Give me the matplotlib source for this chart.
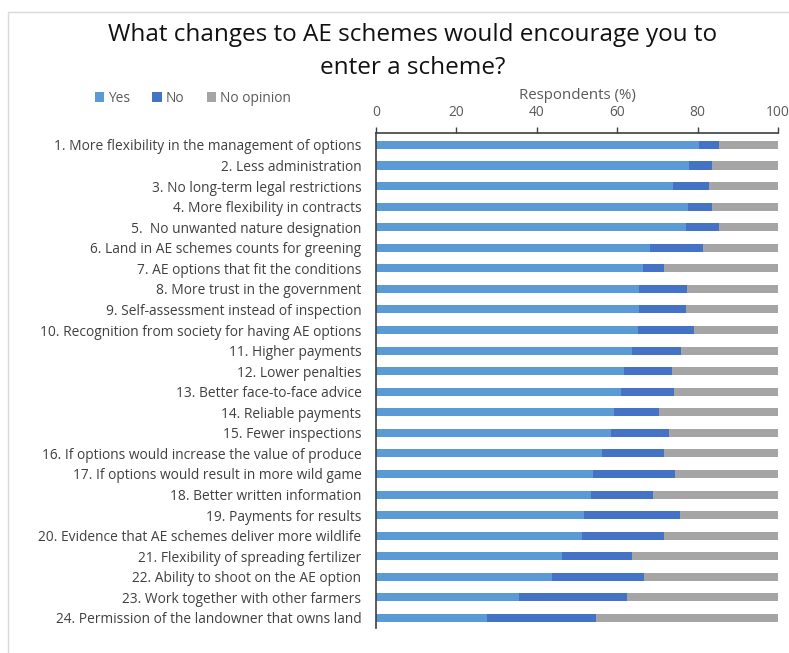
import matplotlib
matplotlib.use("Agg")
import matplotlib.pyplot as plt
from matplotlib.patches import Rectangle, Patch

plt.rcParams['font.family'] = ['Open Sans', 'DejaVu Sans']

categories = [
    "1. More flexibility in the management of options",
    "2. Less administration",
    "3. No long-term legal restrictions",
    "4. More flexibility in contracts",
    "5.  No unwanted nature designation",
    "6. Land in AE schemes counts for greening",
    "7. AE options that fit the conditions",
    "8. More trust in the government",
    "9. Self-assessment instead of inspection",
    "10. Recognition from society for having AE options",
    "11. Higher payments",
    "12. Lower penalties",
    "13. Better face-to-face advice",
    "14. Reliable payments",
    "15. Fewer inspections",
    "16. If options would increase the value of produce",
    "17. If options would result in more wild game",
    "18. Better written information",
    "19. Payments for results",
    "20. Evidence that AE schemes deliver more wildlife",
    "21. Flexibility of spreading fertilizer",
    "22. Ability to shoot on the AE option",
    "23. Work together with other farmers",
    "24. Permission of the landowner that owns land",
]
yes = [80.3, 77.9, 73.8, 77.7, 77.2, 68.2, 66.4, 65.5, 65.3, 65.1, 63.7, 61.8,
       60.9, 59.2, 58.4, 56.1, 53.9, 53.4, 51.7, 51.3, 46.2, 43.8, 35.6, 27.5]
no = [5.0, 5.8, 9.0, 6.0, 8.1, 13.1, 5.2, 11.9, 11.8, 13.9, 12.2, 11.8,
      13.2, 11.1, 14.4, 15.5, 20.4, 15.5, 23.8, 20.4, 17.5, 22.9, 26.8, 27.2]
no_opinion = [100 - a - b for a, b in zip(yes, no)]

series_names = ["Yes", "No", "No opinion"]
colors = ["#5B9BD5", "#4472C4", "#A5A5A5"]
xticks = [0, 20, 40, 60, 80, 100]

W, H = 789, 653
fig = plt.figure(figsize=(W / 100, H / 100), dpi=100)

# chart border
fig.patches.append(Rectangle((8 / W, -0.05), 1.05, 1 - 12 / H + 0.05,
                             transform=fig.transFigure, fill=False,
                             edgecolor="#D9D9D9", linewidth=1.0))

ax = fig.add_axes([376 / W, 1 - 628 / H, 402 / W, 495 / H])
ypos = list(range(len(categories)))
left = [0] * len(categories)
for vals, name, c in zip([yes, no, no_opinion], series_names, colors):
    ax.barh(ypos, vals, left=left, height=0.39, color=c, label=name)
    left = [l + v for l, v in zip(left, vals)]

ax.set_ylim(23.49, -0.58)
ax.set_xlim(0, 100)
ax.set_yticks(ypos)
ax.set_yticklabels(categories, fontsize=9.9, color="#404040")
ax.tick_params(axis="y", length=0, pad=10.5)
ax.xaxis.tick_top()
ax.xaxis.set_label_position("top")
ax.set_xticks(xticks)
ax.set_xticklabels([str(t) for t in xticks], fontsize=9.9, color="#595959")
ax.tick_params(axis="x", length=4, width=1, color="#404040", pad=5, direction="out")
ax.set_xlabel("Respondents (%)", fontsize=10.8, color="#595959", labelpad=5)
for s in ["right", "bottom"]:
    ax.spines[s].set_visible(False)
for s in ["top", "left"]:
    ax.spines[s].set_color("#404040")
    ax.spines[s].set_linewidth(1.2)

fig.text(413 / W, 1 - 35 / H, "What changes to AE schemes would encourage you to",
         ha="center", va="center", fontsize=17.5, color="#111111")
fig.text(413 / W, 1 - 68 / H, "enter a scheme?",
         ha="center", va="center", fontsize=17.5, color="#111111")

handles = [Patch(facecolor=c, edgecolor="none") for c in colors]
leg = fig.legend(handles, series_names, loc="center left",
                 bbox_to_anchor=(89 / W, 1 - 98 / H), ncol=3, frameon=False,
                 fontsize=9.9, handlelength=0.7, handleheight=0.7,
                 handletextpad=0.3, columnspacing=1.6, borderaxespad=0)
for t in leg.get_texts():
    t.set_color("#595959")

fig.savefig("out.png", dpi=100)
